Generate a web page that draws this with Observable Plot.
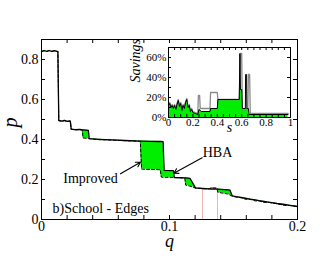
<!DOCTYPE html>
<html><head><meta charset="utf-8">
<script src="https://cdn.jsdelivr.net/npm/d3@7"></script>
<script src="https://cdn.jsdelivr.net/npm/@observablehq/plot@0.6"></script>
<style>
body{margin:0;background:#fff}
#wrap{position:relative;width:335px;height:259px}
#inset{position:absolute;left:116px;top:40px}
svg.pl, svg.pl text, svg.pl g{font-family:"Liberation Serif","DejaVu Serif",Times,serif !important}
</style></head><body><div id="wrap"><div id="main"></div><div id="inset"></div></div>
<script>
// ---- main chart data ----
const q = [0,0.002,0.004,0.006,0.008,0.010,0.012,0.0128,0.0135,0.016,0.018,0.020,0.022,0.0225,0.0232,0.026,0.030,0.0318,0.0325,0.0366,0.0373,0.045,0.055,0.065,0.0772,0.0782,0.085,0.0928,0.0936,0.0950,0.0958,0.1030,0.1038,0.112,0.1126,0.116,0.1203,0.126,0.131,0.1325,0.1365,0.1372,0.1378,0.146,0.1472,0.1490,0.152,0.156,0.160,0.163,0.167,0.170,0.174,0.177,0.184,0.190,0.194,0.200];
const hba = [0.840,0.845,0.841,0.845,0.840,0.844,0.841,0.840,0.495,0.492,0.496,0.491,0.493,0.492,0.452,0.449,0.450,0.448,0.448,0.446,0.404,0.401,0.398,0.395,0.392,0.392,0.391,0.390,0.390,0.389,0.246,0.244,0.210,0.208,0.208,0.206,0.158,0.155,0.153,0.152,0.152,0.152,0.152,0.148,0.147,0.118,0.114,0.110,0.106,0.102,0.098,0.094,0.090,0.087,0.080,0.075,0.071,0.065];
const improved = [0.840,0.843,0.840,0.844,0.841,0.843,0.840,0.840,0.495,0.491,0.494,0.490,0.492,0.492,0.452,0.448,0.449,0.448,0.408,0.405,0.404,0.399,0.397,0.394,0.391,0.252,0.250,0.249,0.212,0.211,0.211,0.210,0.210,0.207,0.172,0.167,0.157,0.154,0.153,0.157,0.157,0.152,0.136,0.127,0.122,0.117,0.112,0.109,0.100,0.101,0.093,0.093,0.085,0.086,0.079,0.070,0.070,0.065];
const xTickLabels = [0, 0.1, 0.2];
const yTickLabels = [0, 0.2, 0.4, 0.6, 0.8];
const xMinorTicks = [0,0.02,0.04,0.06,0.08,0.10,0.12,0.14,0.16,0.18,0.20];
const yMinorTicks = [0,0.1,0.2,0.3,0.4,0.5,0.6,0.7,0.8,0.9];
const pinkQ = [0.1258, 0.1375];
const pinkTop = [0.155, 0.155];
const annoMidText = ["Improved", "HBA"];
const annoMidQ = [0.0383, 0.1375];
const annoMidP = [0.205, 0.335];
const annoStartText = ["b)School - Edges"];
const annoStartQ = [0.0086];
const annoStartP = [0.055];
const arrowQ1 = [0.0617, 0.1255];
const arrowP1 = [0.2285, 0.3085];
const arrowQ2 = [0.0773, 0.1034];
const arrowP2 = [0.2865, 0.2315];

// ---- inset data ----
const sGreen = [0,0.01,0.02,0.03,0.04,0.05,0.06,0.07,0.08,0.09,0.10,0.11,0.12,0.13,0.14,0.15,0.16,0.17,0.18,0.19,0.20,0.22,0.24,0.25,0.26,0.27,0.34,0.345,0.40,0.405,0.58,0.585,0.60,0.605,0.655,0.66,0.98];
const savGreen = [0.12,0.14,0.10,0.12,0.09,0.12,0.08,0.13,0.17,0.11,0.14,0.07,0.12,0.09,0.15,0.18,0.10,0.12,0.06,0.08,0.05,0.04,0.03,0.08,0.07,0.06,0.06,0.09,0.09,0.18,0.18,0.28,0.28,0.09,0.09,0.03,0.03];
const sBlack = [0,0.01,0.02,0.03,0.04,0.05,0.06,0.07,0.08,0.09,0.10,0.11,0.12,0.13,0.14,0.15,0.16,0.17,0.18,0.19,0.20,0.22,0.24,0.25,0.26,0.27,0.34,0.345,0.40,0.405,0.58,0.585,0.59,0.60,0.605,0.63,0.632,0.64,0.642,0.655,0.66,0.98];
const savBlack = [0.12,0.14,0.10,0.12,0.09,0.12,0.08,0.13,0.17,0.11,0.14,0.07,0.12,0.09,0.15,0.18,0.10,0.12,0.06,0.08,0.05,0.04,0.03,0.08,0.07,0.06,0.06,0.09,0.09,0.18,0.18,0.64,0.28,0.28,0.09,0.09,0.43,0.43,0.09,0.09,0.03,0.03];
const sGray = [0,0.01,0.02,0.03,0.04,0.05,0.06,0.07,0.08,0.09,0.10,0.11,0.12,0.13,0.14,0.15,0.16,0.17,0.18,0.19,0.20,0.24,0.245,0.255,0.26,0.34,0.345,0.40,0.405,0.58,0.59,0.60,0.605,0.65,0.655,0.665,0.67,0.98];
const savGray = [0.13,0.15,0.11,0.13,0.10,0.13,0.09,0.14,0.18,0.12,0.15,0.08,0.13,0.10,0.16,0.19,0.11,0.13,0.07,0.09,0.06,0.04,0.22,0.22,0.09,0.09,0.25,0.25,0.18,0.18,0.64,0.64,0.08,0.08,0.43,0.43,0.04,0.04];
const sTickLabels = [0,0.2,0.4,0.6,0.8,1];
const vTickLabels = [0,0.2,0.4,0.6];
const sMinorTicks = [0,0.05,0.1,0.15,0.2,0.25,0.3,0.35,0.4,0.45,0.5,0.55,0.6,0.65,0.7,0.75,0.8,0.85,0.9,0.95,1];
const vMinorTicks = [0,0.1,0.2,0.3,0.4,0.5,0.6,0.7];
const vRightTicks = [0,0.2,0.4,0.6];

const GREEN = "#00ee00";
const FONT = "'Liberation Serif', 'DejaVu Serif', serif";

// build rows
const rows = q.map((v,i)=>({q:v, hba:hba[i], imp:improved[i]}));
const annosMid = annoMidText.map((t,i)=>({t, q:annoMidQ[i], p:annoMidP[i]}));
const annosStart = annoStartText.map((t,i)=>({t, q:annoStartQ[i], p:annoStartP[i]}));
const arrows = arrowQ1.map((v,i)=>({x1:v, y1:arrowP1[i], x2:arrowQ2[i], y2:arrowP2[i]}));
const pinks = pinkQ.map((v,i)=>({q:v, top:pinkTop[i]}));

const W=335, H=259, mL=41, mR=38, mT=39, mB=40;
const pw = W-mL-mR, ph = H-mT-mB;

const main = Plot.plot({
  width: W, height: H,
  marginLeft: mL, marginRight: mR, marginTop: mT, marginBottom: mB,
  className: "pl",
  x: {domain: [0, 0.2]},
  y: {domain: [0, 0.9]},
  style: {fontFamily: FONT, background: "white", overflow: "visible"},
  marks: [
    Plot.ruleX(pinks, {x: "q", y1: 0, y2: "top", stroke: "#f2b3b3", strokeWidth: 1}),
    Plot.areaY(rows, {x: "q", y1: "imp", y2: d => Math.max(d.hba, d.imp), fill: GREEN, curve: "linear"}),
    Plot.areaY(rows, {x: "q", y1: "hba", y2: d => Math.max(d.hba, d.imp), fill: "red", curve: "linear"}),
    Plot.line(rows, {x: "q", y: "hba", stroke: "black", strokeWidth: 1.3}),
    Plot.line(rows, {x: "q", y: "imp", stroke: "black", strokeWidth: 1, strokeDasharray: "3,2"}),
    Plot.frame({stroke: "black", strokeWidth: 1}),
    Plot.tickX(xMinorTicks, {x: d => d, insetTop: ph - 4, stroke: "black"}),
    Plot.tickX(xMinorTicks, {x: d => d, insetBottom: ph - 4, stroke: "black"}),
    Plot.tickY(yMinorTicks, {y: d => d, insetRight: pw - 4, stroke: "black"}),
    Plot.tickY(yMinorTicks, {y: d => d, insetLeft: pw - 4, stroke: "black"}),
    Plot.axisX({ticks: xTickLabels, tickSize: 0, tickPadding: 2, fontSize: 14, label: null, tickFormat: d => d === 0 ? "0" : String(d)}),
    Plot.axisY({ticks: yTickLabels, tickSize: 0, tickPadding: 3, fontSize: 14, label: null, tickFormat: d => d === 0 ? "0" : String(d)}),
    Plot.text(["q"], {frameAnchor: "bottom", dy: 27, fontSize: 18, fontStyle: "italic"}),
    Plot.text(["p"], {frameAnchor: "left", dx: -31, dy: -2, rotate: -90, fontSize: 20, fontStyle: "italic"}),
    Plot.text(annosMid, {x: "q", y: "p", text: "t", textAnchor: "middle", fontSize: 14}),
    Plot.text(annosStart, {x: "q", y: "p", text: "t", textAnchor: "start", fontSize: 14}),
    Plot.arrow(arrows, {x1: "x1", y1: "y1", x2: "x2", y2: "y2", stroke: "black", strokeWidth: 1.1, headLength: 7})
  ]
});
document.getElementById("main").appendChild(main);

// ---- inset ----
const IW=178, IH=100, iL=52, iR=4, iT=7, iB=23;
const ipw = IW-iL-iR, iph = IH-iT-iB;
const gRows = sGreen.map((v,i)=>({s:v, v:savGreen[i]}));
const bRows = sBlack.map((v,i)=>({s:v, v:savBlack[i]}));
const rRows = sGray.map((v,i)=>({s:v, v:savGray[i]}));

const inset = Plot.plot({
  width: IW, height: IH,
  marginLeft: iL, marginRight: iR, marginTop: iT, marginBottom: iB,
  className: "pl",
  x: {domain: [0, 1]},
  y: {domain: [0, 0.7]},
  style: {fontFamily: FONT, background: "transparent", overflow: "visible"},
  marks: [
    Plot.areaY(gRows, {x: "s", y: "v", fill: GREEN}),
    Plot.line(rRows, {x: "s", y: "v", stroke: "#8a8a8a", strokeWidth: 1.3}),
    Plot.line(bRows, {x: "s", y: "v", stroke: "black", strokeWidth: 1}),
    Plot.frame({stroke: "black", strokeWidth: 1}),
    Plot.tickX(sMinorTicks, {x: d => d, insetTop: iph - 3, stroke: "black"}),
    Plot.tickX(sMinorTicks, {x: d => d, insetBottom: iph - 3, stroke: "black"}),
    Plot.tickY(vMinorTicks, {y: d => d, insetRight: ipw - 3, stroke: "black"}),
    Plot.tickY(vRightTicks, {y: d => d, insetLeft: ipw - 3, stroke: "black"}),
    Plot.axisX({ticks: sTickLabels, tickSize: 0, tickPadding: 1, fontSize: 11, label: null, tickFormat: d => d === 0 ? "0" : d === 1 ? "1" : String(d)}),
    Plot.axisY({ticks: vTickLabels, tickSize: 0, tickPadding: 2, fontSize: 11, label: null, tickFormat: d => Math.round(d * 100) + "%"}),
    Plot.text(["s"], {frameAnchor: "bottom", dy: 14, fontSize: 14, fontStyle: "italic"}),
    Plot.text(["Savings"], {frameAnchor: "left", dx: -33, rotate: -90, fontSize: 14, fontStyle: "italic"})
  ]
});
document.getElementById("inset").appendChild(inset);
</script>
</body></html>
